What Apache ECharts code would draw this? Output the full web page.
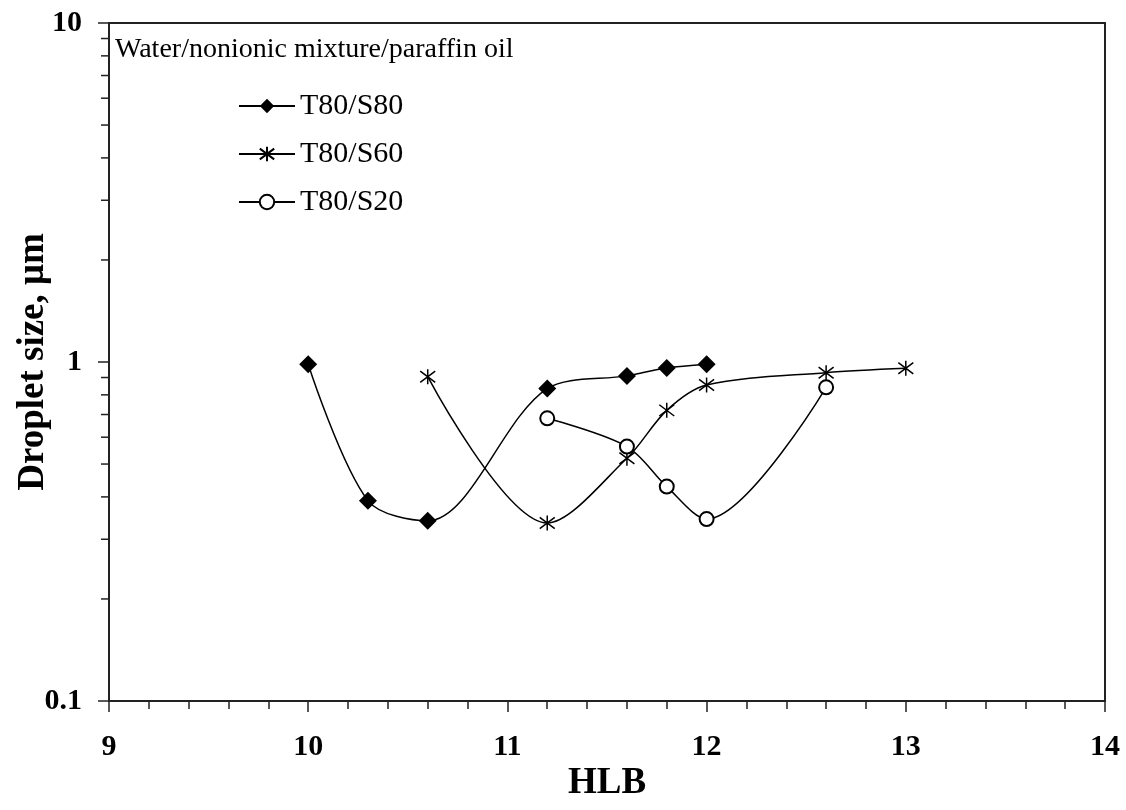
<!DOCTYPE html>
<html>
<head>
<meta charset="utf-8">
<script src="https://cdn.jsdelivr.net/npm/echarts@6/dist/echarts.min.js"></script>
<style>
    html, body { margin: 0; padding: 0; background: #fff; }
    #main { width: 1126px; height: 810px; }
</style>
</head>
<body>
<div id="main"></div>
<script>
    // values
    var hlbS80 = [10.0, 10.3, 10.6, 11.2, 11.6, 11.8, 12.0];
    var sizeS80 = [0.985, 0.39, 0.34, 0.835, 0.91, 0.96, 0.985];

    var hlbS60 = [10.6, 11.2, 11.6, 11.8, 12.0, 12.6, 13.0];
    var sizeS60 = [0.905, 0.335, 0.52, 0.72, 0.855, 0.93, 0.958];

    var hlbS20 = [11.2, 11.6, 11.8, 12.0, 12.6];
    var sizeS20 = [0.682, 0.563, 0.429, 0.344, 0.842];

    // minor ticks of the log axis (2..9 in each decade)
    var yMinorTicks = [0.2, 0.3, 0.4, 0.5, 0.6, 0.7, 0.8, 0.9, 2, 3, 4, 5, 6, 7, 8, 9];

    var font = 'Liberation Serif';

    function pairs(xs, ys) {
        return xs.map(function (x, i) { return [x, ys[i]]; });
    }

    var asterisk = 'path://M8,0 L8,16 M1,2 L15,14 M1,14 L15,2';

    var lineSeries = function (name, data, symbol, size) {
        return {
            name: name,
            type: 'line',
            data: data,
            smooth: 0.32,
            symbol: symbol,
            symbolSize: size,
            showAllSymbol: true,
            lineStyle: {color: '#000', width: 1.5},
            itemStyle: {color: '#000', borderColor: '#000', borderWidth: symbol === 'diamond' ? 0 : 1.5},
            z: 3
        };
    };

    var myChart = echarts.init(document.getElementById('main'));
    myChart.setOption({
        animation: false,
        backgroundColor: '#fff',
        textStyle: {fontFamily: font, color: '#000'},
        title: {
            text: 'Water/nonionic mixture/paraffin oil',
            left: 115,
            top: 36,
            padding: 0,
            textStyle: {fontFamily: font, fontSize: 28, fontWeight: 'normal', color: '#000'}
        },
        legend: {
            data: ['T80/S80', 'T80/S60', 'T80/S20'],
            orient: 'vertical',
            left: 238,
            top: 91,
            padding: 0,
            itemWidth: 56,
            itemHeight: 18,
            itemGap: 18,
            textStyle: {fontFamily: font, fontSize: 30, color: '#000', lineHeight: 30}
        },
        grid: {
            left: 109, right: 21, top: 23, bottom: 109,
            containLabel: false,
            outerBoundsMode: 'none',
            show: true, borderColor: '#222', borderWidth: 2
        },
        xAxis: {
            type: 'value',
            min: 9, max: 14, interval: 1,
            name: 'HLB',
            nameLocation: 'middle',
            nameGap: 64,
            nameMoveOverlap: false,
            nameTextStyle: {fontFamily: font, fontSize: 37, fontWeight: 'bold', color: '#000'},
            axisLine: {lineStyle: {color: '#222', width: 2}},
            axisTick: {inside: false, length: 11, lineStyle: {color: '#222', width: 1.5}},
            minorTick: {show: true, splitNumber: 5, length: 8, lineStyle: {color: '#222', width: 1.5}},
            axisLabel: {fontFamily: font, fontSize: 30, fontWeight: 'bold', color: '#000', margin: 31},
            splitLine: {show: false}
        },
        yAxis: {
            type: 'log',
            logBase: 10,
            min: 0.1, max: 10,
            name: 'Droplet size, μm',
            nameLocation: 'middle',
            nameGap: 57,
            nameMoveOverlap: false,
            nameTextStyle: {fontFamily: font, fontSize: 37, fontWeight: 'bold', color: '#000'},
            axisLine: {lineStyle: {color: '#222', width: 2}},
            axisTick: {inside: false, length: 11, lineStyle: {color: '#222', width: 1.5}},
            axisLabel: {fontFamily: font, fontSize: 30, fontWeight: 'bold', color: '#000', margin: 27},
            splitLine: {show: false}
        },
        series: [
            lineSeries('T80/S80', pairs(hlbS80, sizeS80), 'diamond', 18),
            lineSeries('T80/S60', pairs(hlbS60, sizeS60), asterisk, 15),
            lineSeries('T80/S20', pairs(hlbS20, sizeS20), 'emptyCircle', 14),
            {
                name: 'yMinor',
                type: 'custom',
                clip: false,
                silent: true,
                data: yMinorTicks.map(function (v) { return [9, v]; }),
                renderItem: function (params, api) {
                    var p = api.coord([api.value(0), api.value(1)]);
                    return {
                        type: 'line',
                        shape: {x1: p[0] - 8, y1: p[1], x2: p[0], y2: p[1]},
                        style: {stroke: '#222', lineWidth: 1.5}
                    };
                }
            }
        ]
    });
</script>
</body>
</html>
